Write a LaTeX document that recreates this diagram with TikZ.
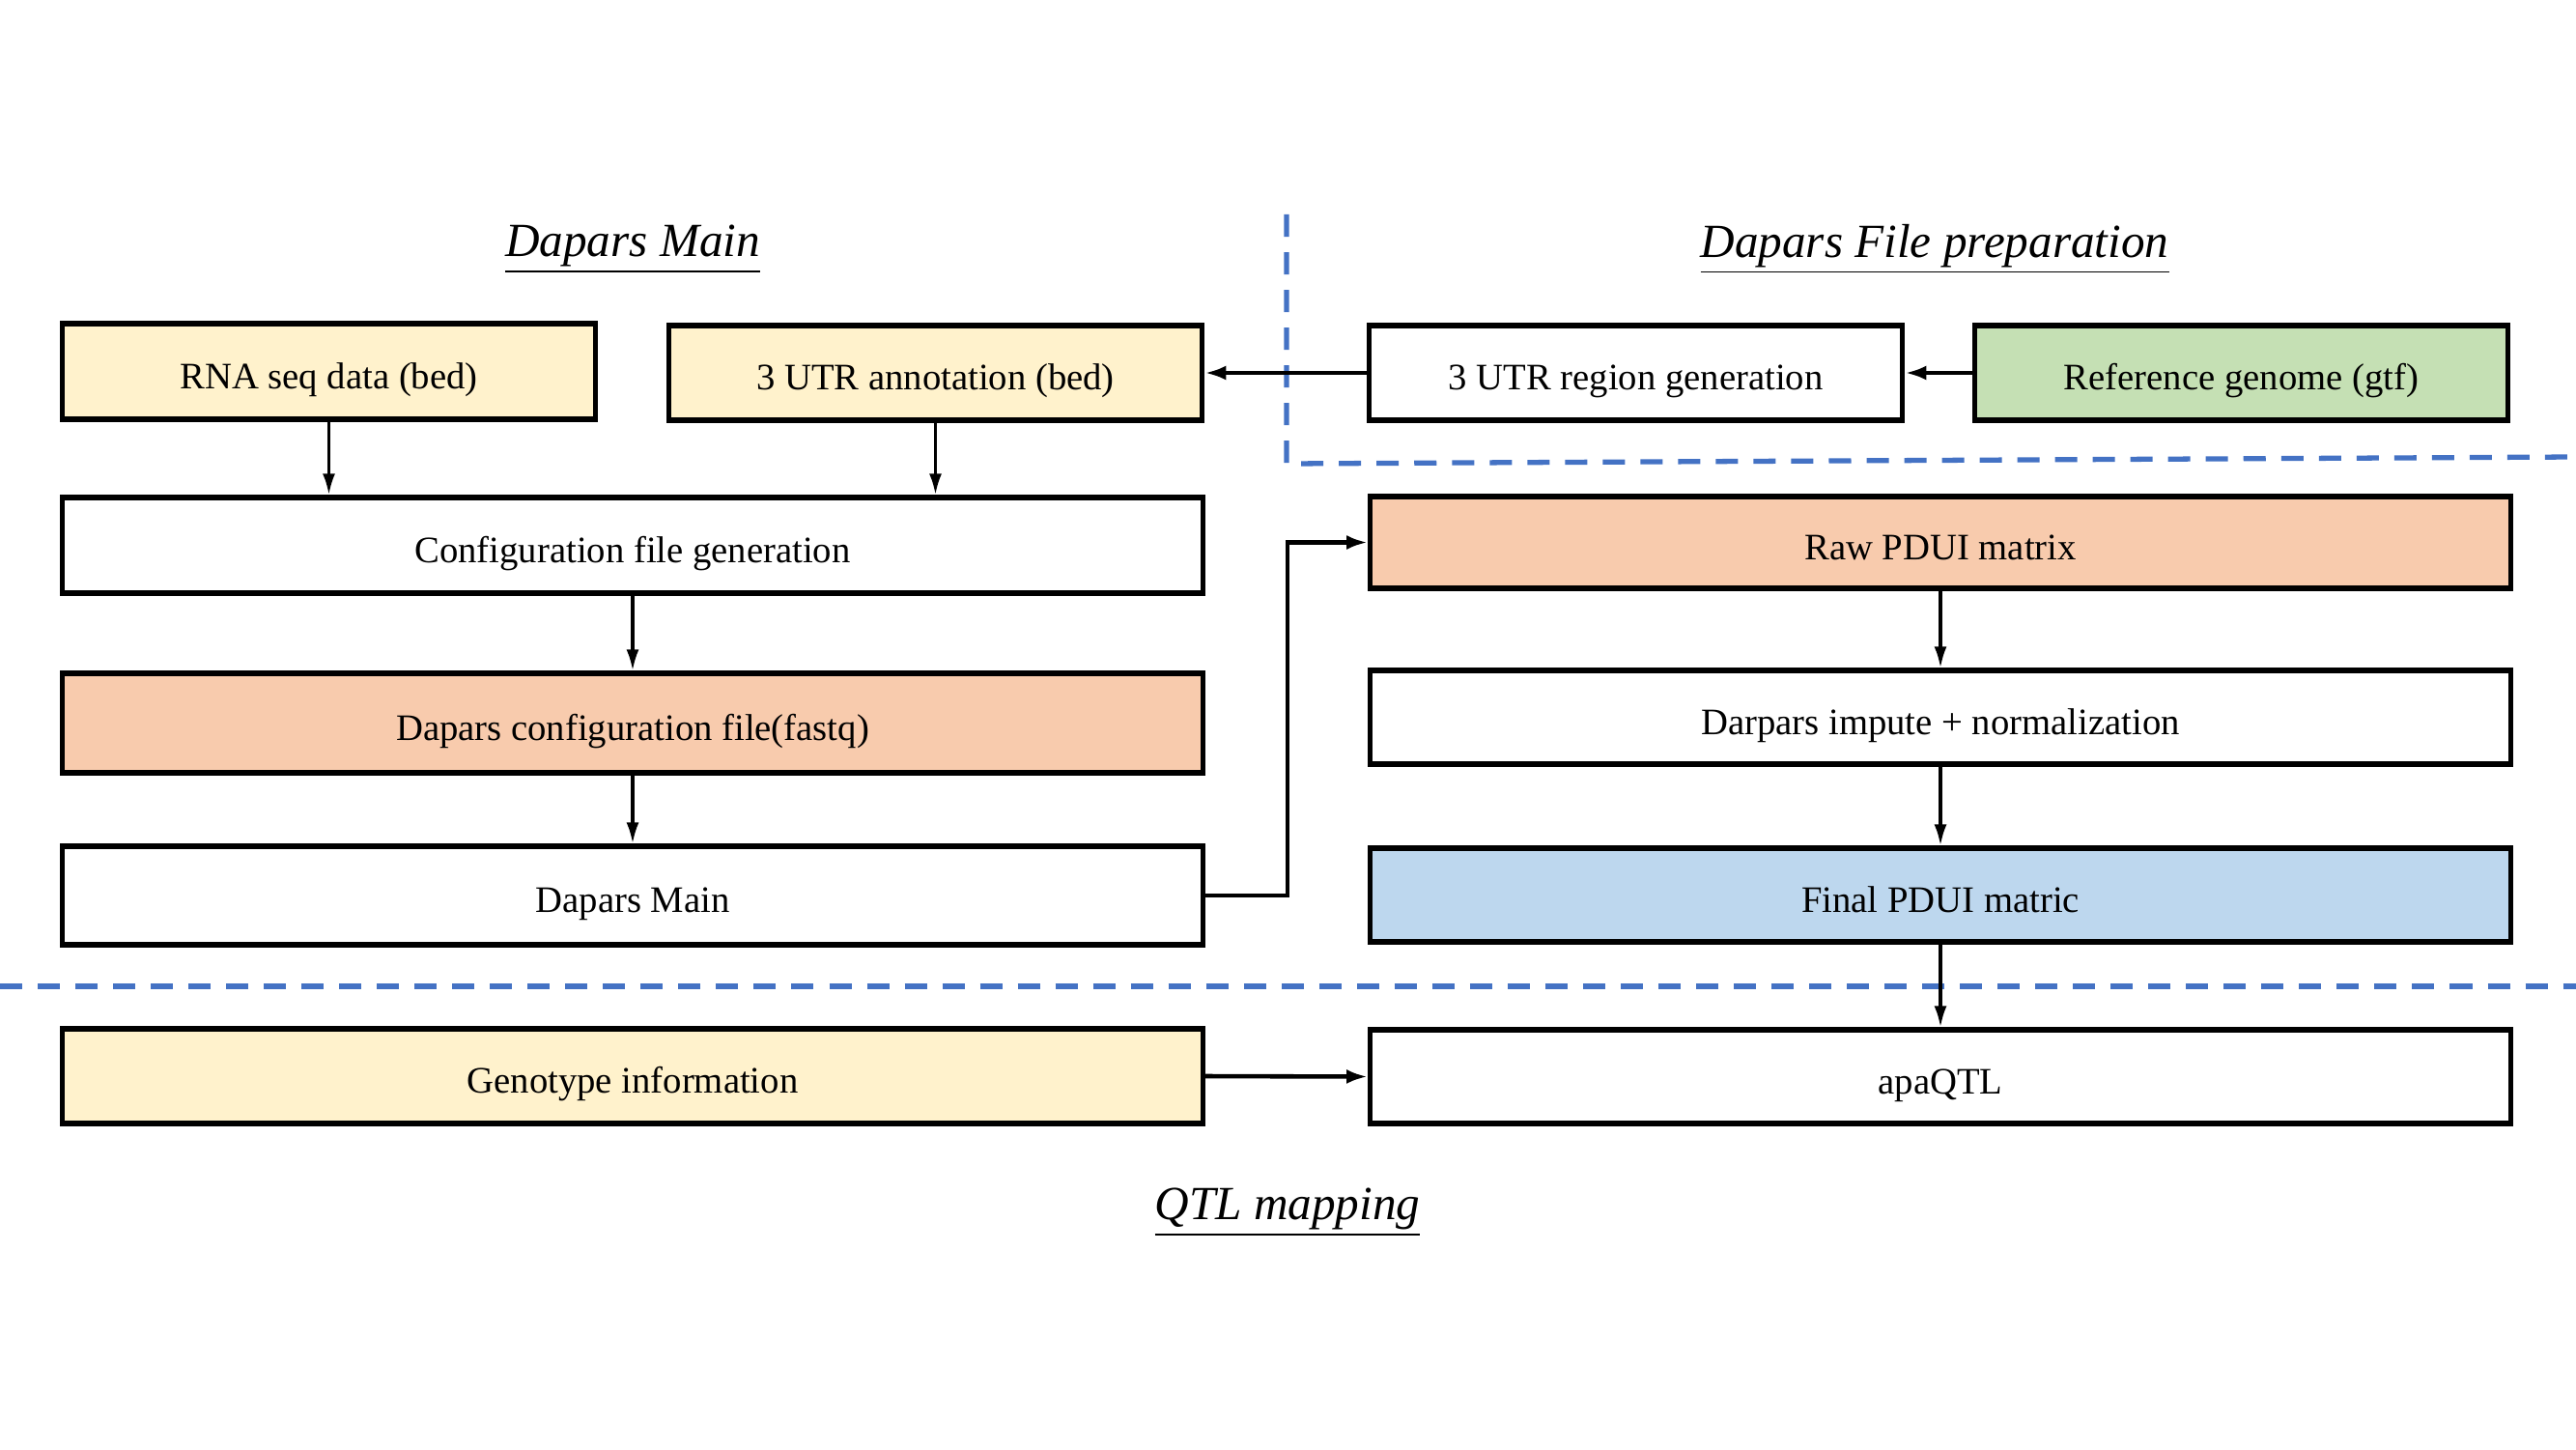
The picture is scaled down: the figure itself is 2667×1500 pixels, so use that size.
\documentclass[tikz,border=0pt]{standalone}
\usepackage{fontspec}
\setmainfont{Liberation Serif}
\usetikzlibrary{arrows.meta}
\definecolor{cyel}{HTML}{FFF2CC}
\definecolor{corg}{HTML}{F8CBAD}
\definecolor{cgrn}{HTML}{C5E0B4}
\definecolor{cblu}{HTML}{BDD7EE}
\definecolor{dashblue}{HTML}{4472C4}
\tikzset{
  box/.style={draw=black, line width=1.5pt, inner sep=0pt, text height=12.5pt, text depth=2.5pt, font=\fontsize{11}{13}\selectfont},
  wide/.style={minimum width=11.8cm},
  narrow/.style={minimum width=5.52cm},
  conn/.style={line width=0.9pt, -{Latex[length=0.22cm,width=0.13cm]}},
  connthick/.style={line width=1.3pt, -{Latex[length=0.22cm,width=0.15cm]}},
  sep/.style={draw=dashblue, line width=1.5pt, dash pattern=on 0.23cm off 0.16cm},
  title/.style={font=\fontsize{14}{16}\selectfont\itshape}
}
\begin{document}
\begin{tikzpicture}[x=0.01cm, y=-0.01cm]
\useasboundingbox (0,0) rectangle (2667,1500);
% titles
\node[title] (t1) at (655,258) {\underline{Dapars Main}};
\node[title] (t2) at (2003,258) {\underline{Dapars File preparation}};
\node[title] (t3) at (1333,1255) {\underline{QTL mapping}};
% separators
\coordinate (s1) at (1332,222);
\coordinate (s2) at (1332,480);
\coordinate (s3) at (2667,473);
\draw[sep] (s1) -- (s2) -- (s3);
\coordinate (s4) at (0,1021);
\coordinate (s5) at (2667,1021);
\draw[sep] (s4) -- (s5);
% boxes
\node[box, narrow, minimum height=0.99cm, fill=cyel] (rna) at (340.5,384.5) {RNA seq data (bed)};
\node[box, narrow, minimum height=0.98cm, fill=cyel] (utr) at (968.5,386) {3 UTR annotation (bed)};
\node[box, narrow, minimum height=0.98cm, fill=white] (gen) at (1693.5,386) {3 UTR region generation};
\node[box, narrow, minimum height=0.98cm, fill=cgrn] (ref) at (2320.5,386) {Reference genome (gtf)};
\node[box, wide, minimum height=0.99cm, fill=white] (conf) at (655,564.5) {Configuration file generation};
\node[box, wide, minimum height=1.03cm, fill=corg] (dconf) at (655,748.5) {Dapars configuration file(fastq)};
\node[box, wide, minimum height=1.02cm, fill=white] (dmain) at (655,927) {Dapars Main};
\node[box, wide, minimum height=0.95cm, fill=corg] (raw) at (2009,561.5) {Raw PDUI matrix};
\node[box, wide, minimum height=0.97cm, fill=white] (imp) at (2009,742.5) {Darpars impute + normalization};
\node[box, wide, minimum height=0.97cm, fill=cblu] (fin) at (2009,926.5) {Final PDUI matric};
\node[box, wide, minimum height=0.98cm, fill=cyel] (geno) at (655,1114) {Genotype information};
\node[box, wide, minimum height=0.97cm, fill=white] (qtl) at (2009,1114.5) {apaQTL};
% connectors
\draw[conn] (rna.south) -- (rna.south |- conf.north);
\draw[conn] (utr.south) -- (utr.south |- conf.north);
\draw[connthick] (gen.west) -- (utr.east);
\draw[connthick] (ref.west) -- (gen.east);
\draw[conn] (conf.south) -- (dconf.north);
\draw[conn] (dconf.south) -- (dmain.north);
\coordinate (b1) at (1333,927);
\coordinate (b2) at (1333,561.5);
\draw[connthick] (dmain.east) -- (b1) -- (b2) -- (raw.west);
\draw[conn] (raw.south) -- (imp.north);
\draw[conn] (imp.south) -- (fin.north);
\draw[conn] (fin.south) -- (qtl.north);
\draw[connthick] (geno.east) -- (qtl.west);
\end{tikzpicture}
\end{document}
